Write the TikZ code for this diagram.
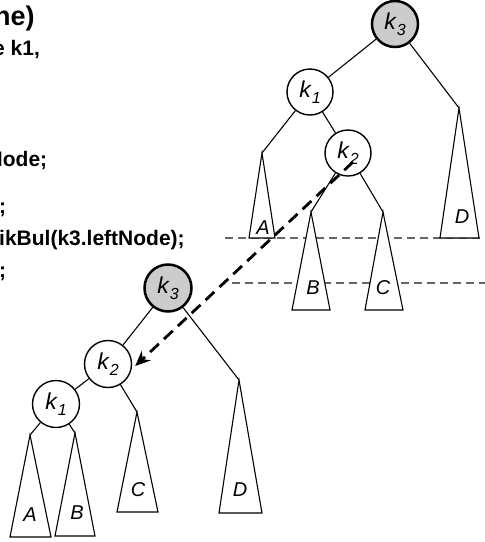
\documentclass[tikz,border=0pt]{standalone}
\usepackage{fontspec}
\setmainfont{Liberation Sans}
\usetikzlibrary{arrows.meta}
\newcommand{\kk}[1]{\textit{k}\raisebox{-0.5ex}{\fontsize{16}{16}\selectfont\textit{#1}}}

\begin{document}
\begin{tikzpicture}[x=1pt,y=-1pt,
  keynode/.style={circle,draw,fill=white,line width=1.4pt,minimum size=46pt,inner sep=0pt,font=\fontsize{23}{23}\selectfont},
  rootnode/.style={keynode,fill=black!20,line width=2.5pt},
  leaf/.style={inner sep=0pt,font=\fontsize{20}{20}\selectfont\itshape},
  tree/.style={line width=1.1pt},
  sub/.style={tree,fill=white},
  level/.style={line width=1.4pt,black!60,dash pattern=on 8pt off 5pt},
  move/.style={line width=2.8pt,dash pattern=on 12pt off 7pt,-{Stealth[length=15pt,width=13pt]}},
  code/.style={inner sep=0pt,anchor=base west,font=\fontsize{21}{21}\selectfont\bfseries}]
  \useasboundingbox (0,0) rectangle (485,542);
  \clip (0,0) rectangle (485,542);
  % code lines cut off by the slide edge
  \node[code,font=\fontsize{27}{27}\selectfont\bfseries] (title) at (-6,25) {ne)};
  \node[code] (line1) at (-7,55) {e k1,};
  \node[code] (line2) at (-12.5,166) {Node;};
  \node[code] (line3) at (-1,213) {;};
  \node[code] (line4) at (-1,245) {ikBul(k3.leftNode);};
  \node[code] (line5) at (-1,277) {;};
  % height levels
  \draw[level] (225,238) -- (485,238);
  \draw[level] (232,283) -- (485,283);
  % tree before the rotation
  \coordinate (tA) at (262,153);
  \coordinate (tB) at (311,212);
  \coordinate (tC) at (383,212);
  \coordinate (tD) at (459,108);
  \filldraw[sub] (tA) -- (249,238) -- (275,238) -- cycle;
  \filldraw[sub] (tB) -- (292,310) -- (330,310) -- cycle;
  \filldraw[sub] (tC) -- (365,310) -- (403,310) -- cycle;
  \filldraw[sub] (tD) -- (440,238) -- (479,238) -- cycle;
  \node[leaf] (tAl) at (263,228) {A};
  \node[leaf] (tBl) at (313,288) {B};
  \node[leaf] (tCl) at (383,288) {C};
  \node[leaf] (tDl) at (462,217) {D};
  \node[rootnode] (t3) at (395,24) {\kk3};
  \node[keynode] (t1) at (310,92) {\kk1};
  \node[keynode] (t2) at (348,153) {\kk2};
  \draw[tree] (t3) -- (t1);
  \draw[tree] (t3) -- (tD);
  \draw[tree] (t1) -- (tA);
  \draw[tree] (t1) -- (t2);
  \draw[tree] (t2) -- (tB);
  \draw[tree] (t2) -- (tC);
  % tree after the rotation
  \coordinate (bA) at (30,435);
  \coordinate (bB) at (75,433);
  \coordinate (bC) at (137,412);
  \coordinate (bD) at (239,380);
  \filldraw[sub] (bA) -- (10,537) -- (51,537) -- cycle;
  \filldraw[sub] (bB) -- (55,536) -- (95,536) -- cycle;
  \filldraw[sub] (bC) -- (117,512) -- (158,512) -- cycle;
  \filldraw[sub] (bD) -- (219,513) -- (262,513) -- cycle;
  \node[leaf] (bAl) at (30,515) {A};
  \node[leaf] (bBl) at (77,513) {B};
  \node[leaf] (bCl) at (138,490) {C};
  \node[leaf] (bDl) at (240,490) {D};
  \node[rootnode,minimum size=47pt] (b3) at (168,288) {\kk3};
  \node[keynode,minimum size=47pt] (b2) at (108,364) {\kk2};
  \node[keynode,minimum size=47pt] (b1) at (56,404) {\kk1};
  \draw[tree] (b3) -- (b2);
  \draw[tree] (b3) -- (bD);
  \draw[tree] (b2) -- (b1);
  \draw[tree] (b2) -- (bC);
  \draw[tree] (b1) -- (bA);
  \draw[tree] (b1) -- (bB);
  % k2 moves up
  \coordinate (mv) at (353,162);
  \draw[move] (mv) -- ([shift={(3,2)}]b2.east);
\end{tikzpicture}
\end{document}
